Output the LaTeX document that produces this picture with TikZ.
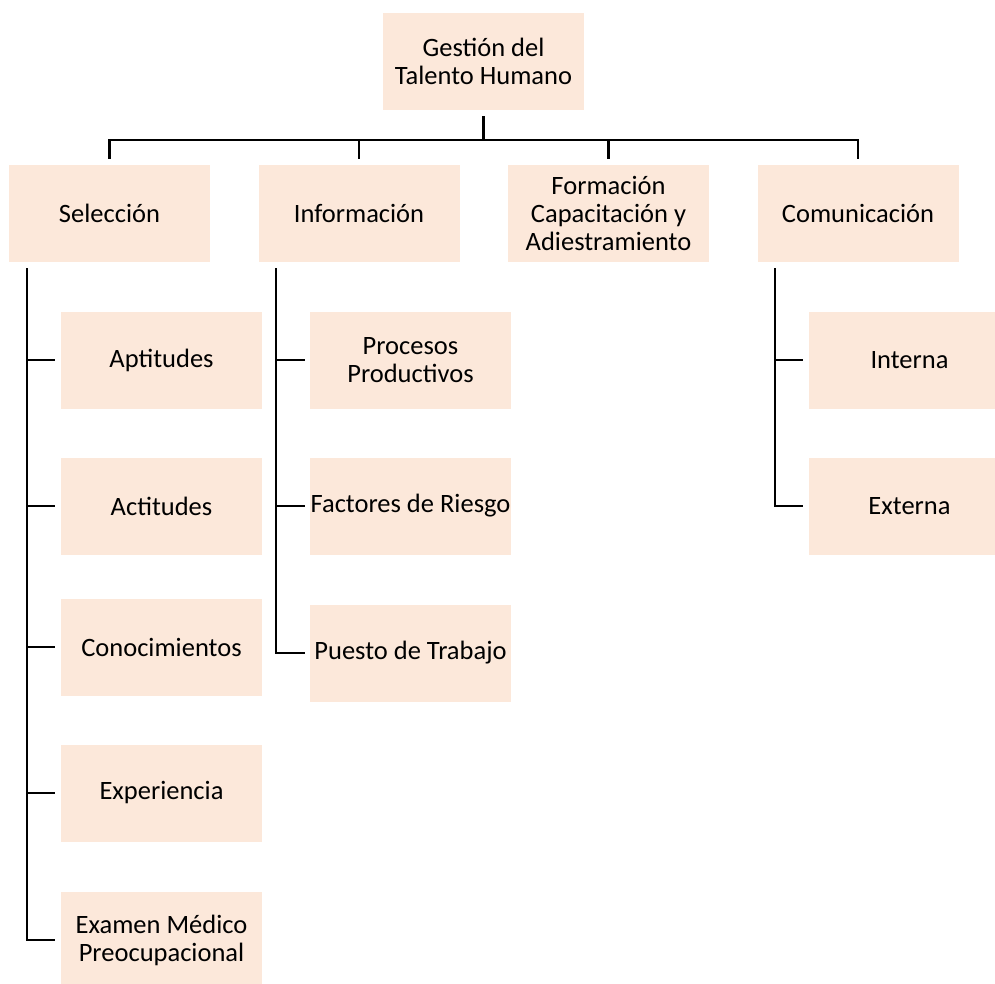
\documentclass[tikz,border=0pt]{standalone}
\usepackage{fontspec}
\setmainfont{Carlito}
\definecolor{peach}{HTML}{FCE8DA}
\begin{document}
\begin{tikzpicture}[x=1pt,y=-1pt,
  box/.style={rectangle, fill=peach, draw=none, minimum width=201pt, minimum height=97pt,
    inner sep=0pt, align=center, font=\fontsize{26.5}{28}\selectfont},
  conn/.style={line width=2.2pt, draw=black}]
\useasboundingbox (0,0) rectangle (995,983);
\begin{scope}
\clip (0,0) rectangle (995,983);
\node[box] (top) at (483.5,61.5) {Gestión del\\Talento Humano};
\node[box] (sel) at (109.5,213.5) {Selección};
\node[box] (inf) at (359,213.5) {Información};
\node[box] (for) at (608.5,213.5) {Formación\\Capacitación y\\Adiestramiento};
\node[box] (com) at (858,213.5) {Comunicación};
\node[box] (apt) at (161.5,360) {Aptitudes};
\node[box] (act) at (161.5,506) {Actitudes};
\node[box] (con) at (161.5,647) {Conocimientos};
\node[box] (exp) at (161.5,793) {Experiencia};
\node[box] (exa) at (161.5,940) {Examen Médico\\Preocupacional};
\node[box] (pro) at (410.5,360) {Procesos\\Productivos};
\node[box] (fac) at (410.5,506) {Factores de Riesgo};
\node[box] (pue) at (410.5,653) {Puesto de Trabajo};
\node[box] (int) at (909.5,360) {Interna};
\node[box] (ext) at (909.5,506) {Externa};
\end{scope}
% top level bus
\draw[conn] ([yshift=-6pt]top.south) -- ([yshift=-30pt]top.south);
\draw[conn] ([yshift=6pt]sel.north) -- ([yshift=25pt]sel.north) -- ([yshift=25pt]com.north) -- ([yshift=6pt]com.north);
\draw[conn] ([yshift=6pt]inf.north) -- ([yshift=25pt]inf.north);
\draw[conn] ([yshift=6pt]for.north) -- ([yshift=25pt]for.north);
% Seleccion
\draw[conn] ([xshift=18pt,yshift=-6pt]sel.south west) |- ([xshift=-6pt]exa.west);
\foreach \n in {apt,act,con,exp}
  \draw[conn] ([xshift=-6pt]\n.west) -- ([xshift=-34pt]\n.west);
% Informacion
\draw[conn] ([xshift=18pt,yshift=-6pt]inf.south west) |- ([xshift=-5pt]pue.west);
\foreach \n in {pro,fac}
  \draw[conn] ([xshift=-5pt]\n.west) -- ([xshift=-33pt]\n.west);
% Comunicacion
\draw[conn] ([xshift=18pt,yshift=-6pt]com.south west) |- ([xshift=-6pt]ext.west);
\draw[conn] ([xshift=-6pt]int.west) -- ([xshift=-33pt]int.west);
\end{tikzpicture}
\end{document}
